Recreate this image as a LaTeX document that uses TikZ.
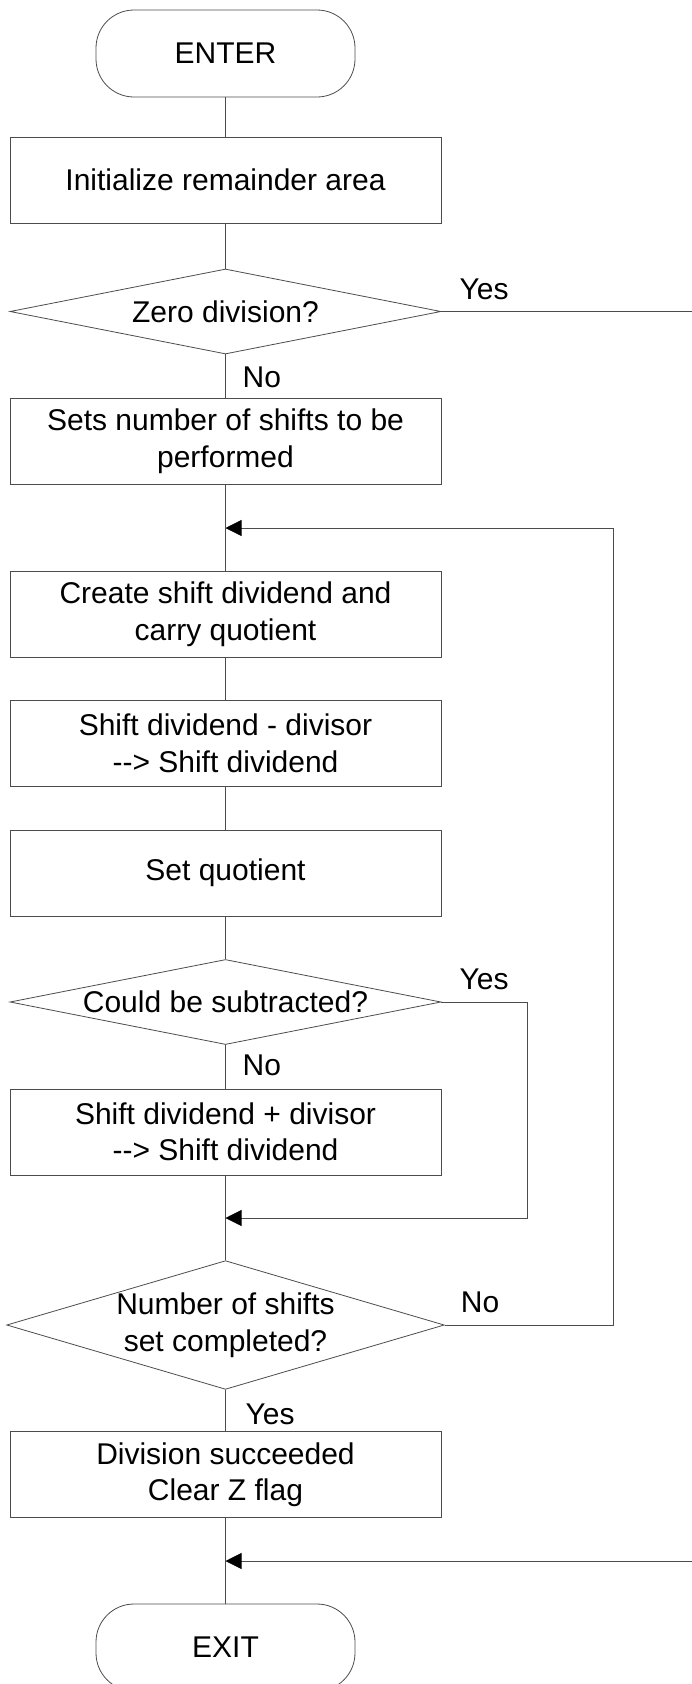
\documentclass[tikz,border=0pt]{standalone}
\usepackage{fontspec}
\setmainfont{Liberation Sans}
\usetikzlibrary{shapes.geometric,arrows.meta,positioning}

\tikzset{
    flowline/.style={draw=black!70, line width=0.8pt},
    procbox/.style={flowline, rectangle, minimum width=431pt, minimum height=86pt, align=center, inner sep=0pt},
    termbox/.style={flowline, rectangle, rounded corners=38pt, minimum width=259pt, minimum height=87pt, inner sep=0pt},
    testbox/.style={flowline, diamond, aspect=5, minimum width=431pt, minimum height=85pt, align=center, inner sep=0pt},
    answer/.style={inner sep=0pt},
    joinarrow/.style={flowline, -{Triangle[length=16pt,width=16pt,black]}}
}
\newcommand{\into}{-\kern0pt-\kern0pt>}

\begin{document}
\begin{tikzpicture}[x=1pt, y=-1pt, font=\fontsize{30}{36.5}\selectfont]
    \useasboundingbox (0,0) rectangle (692,1684);

    % main column
    \node[termbox] (enter) at (225.5,53.5) {ENTER};
    \node[procbox] (init) at (225.5,180) {Initialize remainder area};
    \node[testbox] (zero) at (225.5,311.5) {Zero division?};
    \node[procbox] (count) at (225.5,441) {Sets number of shifts to be\\performed};
    \node[procbox] (create) at (225.5,614) {Create shift dividend and\\carry quotient};
    \node[procbox] (sub) at (225.5,743.5) {Shift dividend - divisor\\\into{} Shift dividend};
    \node[procbox] (setq) at (225.5,873) {Set quotient};
    \node[testbox] (could) at (225.5,1002) {Could be subtracted?};
    \node[procbox] (add) at (225.5,1132) {Shift dividend + divisor\\\into{} Shift dividend};
    \node[testbox, aspect=3.4, minimum height=126pt] (done) at (225.5,1325) {Number of shifts\\set completed?};
    \node[procbox] (ok) at (225.5,1474.5) {Division succeeded\\Clear Z flag};
    \node[termbox] (exit) at (225.5,1647.5) {EXIT};

    % junction points
    \coordinate (loopin) at (225.5,528);
    \coordinate (skipin) at (225.5,1218);
    \coordinate (exitin) at (225.5,1561);
    \coordinate (zeroout) at (692,311.5);
    \coordinate (exitfar) at (692,1561);

    % straight flow
    \draw[flowline] (enter) -- (init);
    \draw[flowline] (init) -- (zero);
    \draw[flowline] (zero) -- (count);
    \draw[flowline] (count) -- (create);
    \draw[flowline] (create) -- (sub);
    \draw[flowline] (sub) -- (setq);
    \draw[flowline] (setq) -- (could);
    \draw[flowline] (could) -- (add);
    \draw[flowline] (add) -- (done);
    \draw[flowline] (done) -- (ok);
    \draw[flowline] (ok) -- (exit);

    % branches
    \draw[flowline] (zero.east) -- (zeroout);
    \draw[joinarrow] (could.east) -| (527,1218) -- (skipin);
    \draw[joinarrow] (done.east) -| (613,528) -- (loopin);
    \draw[joinarrow] (exitfar) -- (exitin);

    % answers
    \node[answer, above right=12pt and 18pt of zero.east] (zeroyes) {Yes};
    \node[answer, below right=12pt and 17pt of zero.south] (zerono) {No};
    \node[answer, above right=12pt and 18pt of could.east] (couldyes) {Yes};
    \node[answer, below right=10pt and 17pt of could.south] (couldno) {No};
    \node[answer, above right=12pt and 16pt of done.east] (doneno) {No};
    \node[answer, below right=14pt and 20pt of done.south] (doneyes) {Yes};
\end{tikzpicture}
\end{document}
